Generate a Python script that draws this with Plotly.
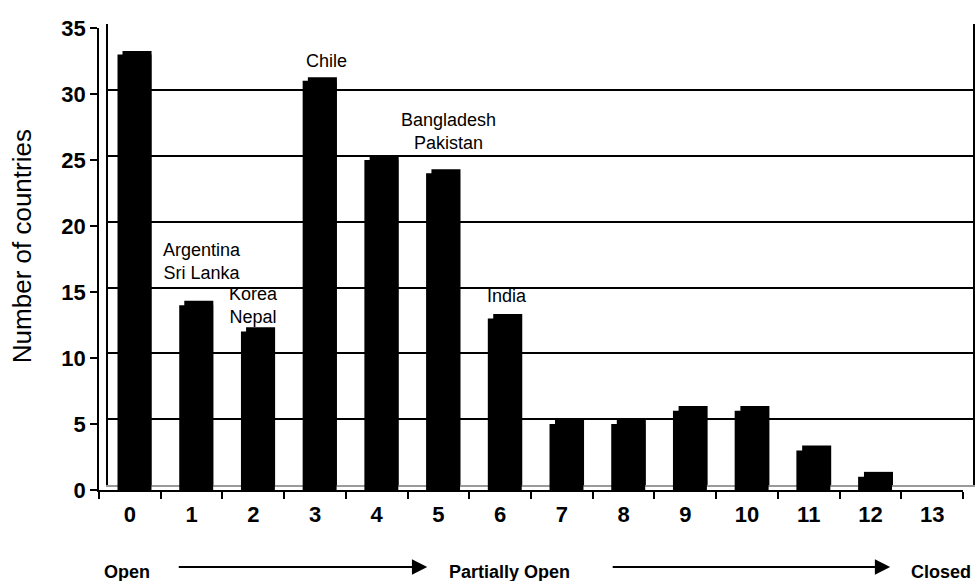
import plotly.graph_objects as go

# ---------------- data ----------------
categories = ["0", "1", "2", "3", "4", "5", "6", "7", "8", "9", "10", "11", "12", "13"]
counts = [33, 14, 12, 31, 25, 24, 13, 5, 5, 6, 6, 3, 1, 0]
y_ticks = [0, 5, 10, 15, 20, 25, 30, 35]
wall_grid = [5, 10, 15, 20, 25, 30, 35]

label_cats = ["1", "2", "3", "5", "6"]
label_texts = ["Argentina<br>Sri Lanka", "Korea<br>Nepal", "Chile", "Bangladesh<br>Pakistan", "India"]
label_vals = [14, 12, 31, 24, 13]
label_yshift = [44, 26, 20, 42, 22]
label_xshift = [10, 0, 11, 10, 7]

scale_labels = ["Open", "Partially Open", "Closed"]
y_title = "Number of countries"

# ---------------- geometry ----------------
W, H = 977, 581
ML, MR, MT, MB = 99, 2, 24, 91
PW, PH = W - ML - MR, H - MT - MB   # 876 x 466

def px(x):   # pixel x -> paper x
    return (x - ML) / PW

def py(y):   # pixel y -> paper y
    return (H - MB - y) / PH

FONT = "Arial, Liberation Sans, Helvetica, sans-serif"

fig = go.Figure()

# depth (top face) of the bars, drawn on the back-wall subplot, which is shifted up/right
fig.add_trace(go.Bar(
    x=categories, y=counts, xaxis="x", yaxis="y",
    marker=dict(color="black", line=dict(width=0)),
    width=0.47, offset=-0.265, showlegend=False, hoverinfo="skip",
))

# front faces of the bars (x2, y2)
fig.add_trace(go.Bar(
    x=categories, y=counts, xaxis="x2", yaxis="y2",
    marker=dict(color="black", line=dict(width=0)),
    width=0.55, offset=-0.2, showlegend=False, hoverinfo="x+y",
))

annotations = []
for c, t, v, ys, xs in zip(label_cats, label_texts, label_vals, label_yshift, label_xshift):
    annotations.append(dict(
        x=c, y=v, xref="x2", yref="y2", text=t, showarrow=False,
        yanchor="middle", xanchor="center", yshift=ys, xshift=xs,
        font=dict(family=FONT, size=18, color="black"),
    ))

# y-axis title
annotations.append(dict(
    x=px(22), y=py(246), xref="paper", yref="paper", text=y_title,
    textangle=-90, showarrow=False, xanchor="center", yanchor="middle",
    font=dict(family=FONT, size=26, color="black"),
))

# bottom scale labels
bold18 = dict(family=FONT, size=18, color="black", weight="bold")
annotations.append(dict(x=px(102), y=py(572), xref="paper", yref="paper",
                        text=scale_labels[0], showarrow=False, xanchor="left",
                        yanchor="middle", font=bold18))
annotations.append(dict(x=px(448), y=py(572), xref="paper", yref="paper",
                        text=scale_labels[1], showarrow=False, xanchor="left",
                        yanchor="middle", font=bold18))
annotations.append(dict(x=px(975), y=py(572), xref="paper", yref="paper",
                        text=scale_labels[2], showarrow=False, xanchor="right",
                        yanchor="middle", font=bold18))

# arrows
for x0, x1 in [(178, 428), (613, 892)]:
    annotations.append(dict(
        x=px(x1), y=py(567), ax=x0 - x1, ay=0,
        xref="paper", yref="paper", axref="pixel", ayref="pixel",
        text="", showarrow=True, arrowhead=2, arrowsize=1.7, arrowwidth=1.8,
        arrowcolor="black", standoff=0, startstandoff=0,
    ))

tickfont = dict(family=FONT, size=22, color="black", weight="bold")

fig.update_layout(
    width=W, height=H,
    margin=dict(l=ML, r=MR, t=MT, b=MB, pad=0),
    paper_bgcolor="white", plot_bgcolor="rgba(0,0,0,0)",
    showlegend=False,
    # back wall
    xaxis=dict(domain=[9 / PW, 1], anchor="y", type="category",
               categoryorder="array", categoryarray=categories,
               range=[-0.5, 13.5],
               showgrid=False, zeroline=False, showticklabels=False, ticks="",
               showline=True, linecolor="#9a9a9a", linewidth=1.5),
    yaxis=dict(domain=[5 / PH, 1], range=[0, 35.05], anchor="x",
               tickvals=wall_grid, showticklabels=False, ticks="",
               showgrid=True, gridcolor="black", gridwidth=1.5, zeroline=False,
               showline=True, mirror=True, linecolor="black", linewidth=1.5),
    # front axes with bars
    xaxis2=dict(domain=[0, 866 / PW], anchor="y2", type="category",
                categoryorder="array", categoryarray=categories,
                range=[-0.5, 13.5],
                showgrid=False, zeroline=False,
                showline=True, linecolor="black", linewidth=1.5,
                ticks="outside", tickson="boundaries", ticklen=7, tickwidth=1.5,
                tickcolor="black", tickfont=tickfont, ticklabelstandoff=4),
    yaxis2=dict(domain=[0, 462 / PH], anchor="x2", range=[0, 35],
                tickvals=y_ticks, showgrid=False, zeroline=False,
                showline=True, linecolor="black", linewidth=1.5,
                ticks="outside", ticklen=7, tickwidth=1.5, tickcolor="black",
                tickfont=tickfont),
    annotations=annotations,
)

fig.write_html("out.html")
